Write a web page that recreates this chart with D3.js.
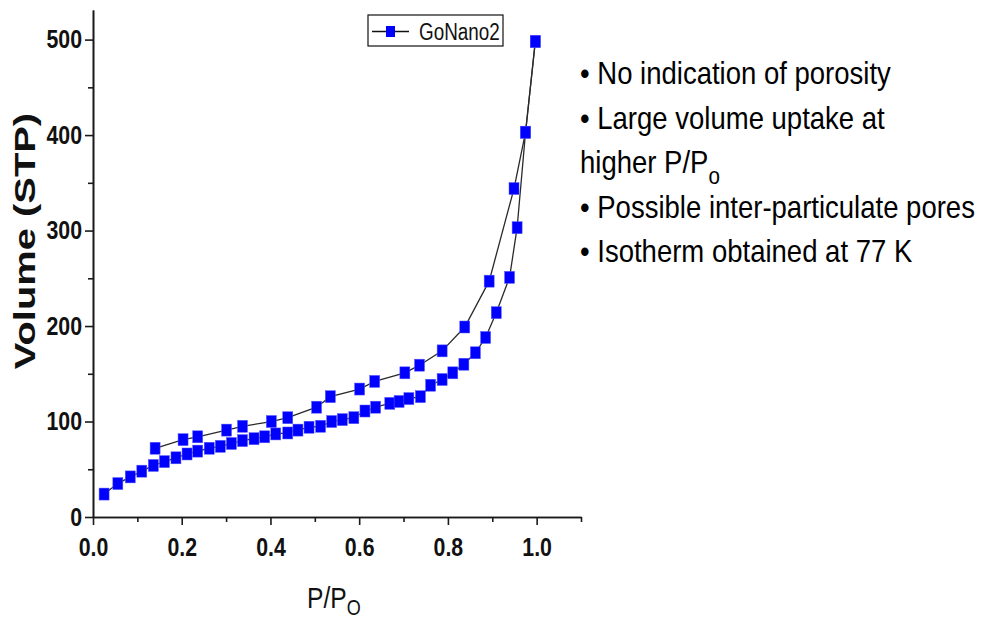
<!DOCTYPE html>
<html>
<head>
<meta charset="utf-8">
<script src="https://cdn.jsdelivr.net/npm/d3@7"></script>
<style>
  html, body { margin: 0; padding: 0; background: #fff; }
  svg { display: block; }
</style>
</head>
<body>
<isotherm-chart></isotherm-chart>
<script>
// adsorption branch (lower curve)
const adsorptionP = [0.025, 0.056, 0.084, 0.110, 0.136, 0.161, 0.187, 0.212, 0.236, 0.262,
  0.287, 0.312, 0.337, 0.363, 0.387, 0.412, 0.439, 0.462, 0.487, 0.513,
  0.538, 0.562, 0.588, 0.613, 0.637, 0.669, 0.690, 0.712, 0.738, 0.761,
  0.787, 0.811, 0.836, 0.862, 0.885, 0.909, 0.939, 0.956, 0.975, 0.997]
const adsorptionV = [24, 35, 42, 48, 54, 58, 62, 66, 69, 72,
  74, 77, 80, 82, 84, 87, 88, 91, 94, 95,
  100, 102, 104, 111, 115, 119, 121, 124, 126, 138,
  144, 151, 160, 172, 188, 214, 251, 303, 403, 498]

// desorption branch (upper curve)
const desorptionP = [0.140, 0.203, 0.236, 0.301, 0.337, 0.402, 0.439, 0.504, 0.535, 0.601,
  0.635, 0.703, 0.736, 0.787, 0.838, 0.893, 0.949, 0.975, 0.997]
const desorptionV = [72, 81, 84, 91, 95, 100, 104, 115, 126, 134,
  142, 151, 159, 174, 199, 247, 344, 403, 498]

const majorX = [0, 0.2, 0.4, 0.6, 0.8, 1.0]
const minorX = [0.1, 0.3, 0.5, 0.7, 0.9, 1.1]
const majorY = [0, 100, 200, 300, 400, 500]
const minorY = [50, 150, 250, 350, 450]

const seriesName = 'GoNano2'
const notes = [
  ['• No indication of porosity', ''],
  ['• Large volume uptake at', ''],
  ['higher P/P', 'o'],
  ['• Possible inter-particulate pores', ''],
  ['• Isotherm obtained at 77 K', '']
]

// no narrow font installed, so squeeze Liberation Sans horizontally
const font = '"Liberation Sans", Arial, sans-serif'
const squeeze = 0.82

class IsothermChart extends HTMLElement {
  constructor() {
    super()

    this.wrapper = document.createElement('div')
    this.attachShadow({mode: 'open'})
    this.shadowRoot.append(this.wrapper)

    this.render()
  }

  renderAxes(svg, x, y) {
    const styleAxis = g => {
      g.attr('font-family', font).attr('font-size', 26).attr('font-weight', 'bold')
      g.selectAll('path, line').attr('stroke', '#1a1a1a').attr('stroke-width', 1.6)
      g.selectAll('text').attr('fill', '#111')
        .attr('transform', `scale(${squeeze},1)`)
    }

    svg.append('g')
      .attr('transform', `translate(0,${y(0)})`)
      .call(d3.axisBottom(x).tickValues(minorX).tickSize(5).tickSizeOuter(0).tickFormat(''))
      .call(styleAxis)

    svg.append('g')
      .attr('transform', `translate(0,${y(0)})`)
      .call(d3.axisBottom(x).tickValues(majorX).tickSize(8).tickSizeOuter(0)
        .tickPadding(13).tickFormat(d3.format('.1f')))
      .call(styleAxis)

    svg.append('g')
      .attr('transform', `translate(${x(0)},0)`)
      .call(d3.axisLeft(y).tickValues(minorY).tickSize(5).tickSizeOuter(0).tickFormat(''))
      .call(styleAxis)

    svg.append('g')
      .attr('transform', `translate(${x(0)},0)`)
      .call(d3.axisLeft(y).tickValues(majorY).tickSize(8).tickSizeOuter(0).tickPadding(3))
      .call(styleAxis)
      .selectAll('text').attr('x', -11 / squeeze)

    svg.append('text')
      .attr('transform', 'translate(35,241) rotate(-90) scale(1.33,1)')
      .attr('text-anchor', 'middle')
      .attr('font-family', font)
      .attr('font-weight', 'bold')
      .attr('font-size', 30)
      .attr('fill', '#111')
      .text('Volume (STP)')

    const xt = svg.append('text')
      .attr('transform', `translate(307,608) scale(${squeeze},1)`)
      .attr('font-family', font)
      .attr('font-size', 30)
      .attr('fill', '#111')
      .text('P/P')
    xt.append('tspan')
      .attr('dy', 7)
      .attr('font-size', 22)
      .text('O')
  }

  renderSeries(svg, x, y) {
    const branches = [
      adsorptionP.map((p, i) => [p, adsorptionV[i]]),
      desorptionP.map((p, i) => [p, desorptionV[i]])
    ]
    const line = d3.line().x(d => x(d[0])).y(d => y(d[1]))

    svg.selectAll('path.branch').data(branches).enter()
      .append('path')
      .attr('class', 'branch')
      .attr('d', line)
      .attr('fill', 'none')
      .attr('stroke', '#2a2a2a')
      .attr('stroke-width', 1.3)

    svg.selectAll('rect.pt').data(branches.flat()).enter()
      .append('rect')
      .attr('class', 'pt')
      .attr('x', d => x(d[0]) - 5)
      .attr('y', d => y(d[1]) - 6)
      .attr('width', 10)
      .attr('height', 12)
      .attr('fill', '#0000ff')
      .attr('stroke', '#5a5aff')
      .attr('stroke-width', 0.5)
  }

  renderLegend(svg) {
    const g = svg.append('g')

    g.append('rect')
      .attr('x', 368).attr('y', 15)
      .attr('width', 135).attr('height', 31)
      .attr('fill', '#fff')
      .attr('stroke', '#111')
      .attr('stroke-width', 1.2)

    g.append('line')
      .attr('x1', 372).attr('x2', 409)
      .attr('y1', 31.5).attr('y2', 31.5)
      .attr('stroke', '#111')
      .attr('stroke-width', 1.3)

    g.append('rect')
      .attr('x', 386).attr('y', 26)
      .attr('width', 9).attr('height', 11)
      .attr('fill', '#0000ff')

    g.append('text')
      .attr('transform', `translate(419,40) scale(${squeeze},1)`)
      .attr('font-family', font)
      .attr('font-size', 23)
      .attr('fill', '#111')
      .text(seriesName)
  }

  renderNotes(svg) {
    const t = svg.append('g')
      .attr('font-family', font)
      .attr('font-size', 32)
      .attr('fill', '#000')
      .selectAll('text').data(notes).enter()
      .append('text')
      .attr('transform', (d, i) => `translate(580,${84 + i * 44.5}) scale(0.86,1)`)
      .text(d => d[0])

    t.filter(d => d[1])
      .append('tspan')
      .attr('dy', 11)
      .attr('font-size', 24)
      .text(d => d[1])
  }

  render() {
    const width = 982
    const height = 619

    const svg = d3.select(this.wrapper).append('svg')
      .attr('width', width)
      .attr('height', height)

    svg.append('rect')
      .attr('width', width).attr('height', height)
      .attr('fill', '#fff')

    const x = d3.scaleLinear().domain([0, 1.1]).range([93, 581])
    const y = d3.scaleLinear().domain([0, 531]).range([517, 10])

    this.renderSeries(svg, x, y)
    this.renderAxes(svg, x, y)
    this.renderLegend(svg)
    this.renderNotes(svg)
  }
}

window.customElements.define('isotherm-chart', IsothermChart)
</script>
</body>
</html>
